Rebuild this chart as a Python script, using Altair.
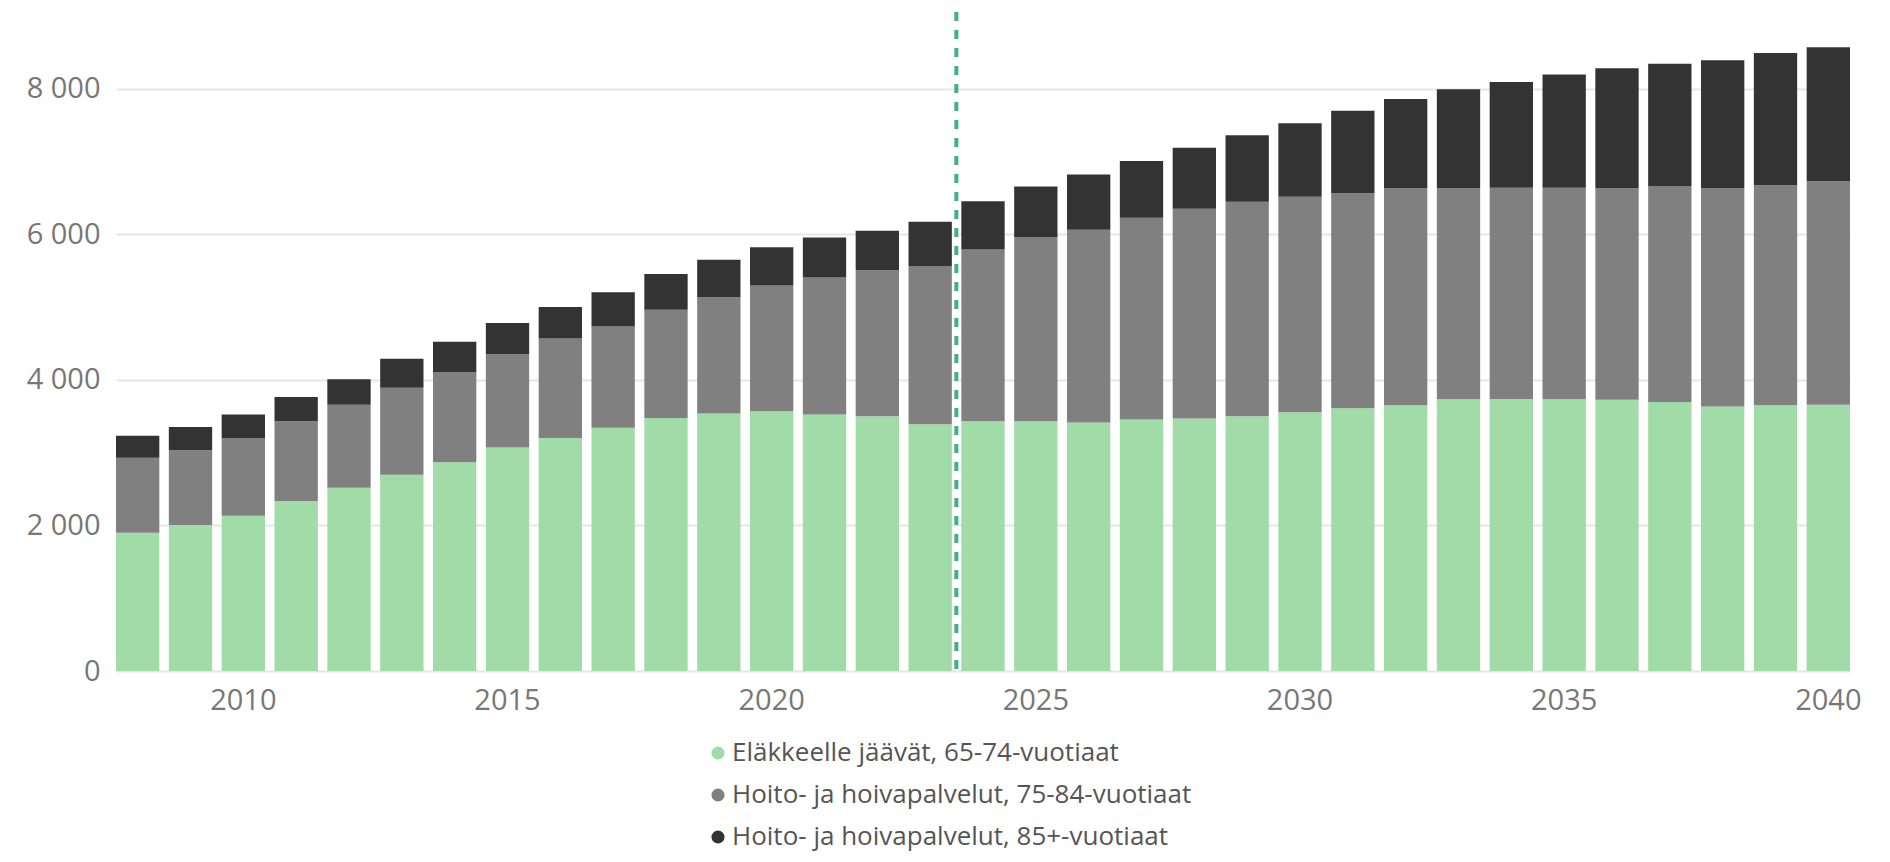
import altair as alt
import pandas as pd

years = list(range(2008, 2041))
total_green = [1900, 2005, 2133, 2336, 2519, 2697, 2869, 3071, 3200, 3341, 3476, 3537, 3568, 3525, 3500, 3390,
               3433, 3433, 3414, 3457, 3470, 3500, 3555, 3611, 3653, 3733, 3739, 3733, 3727, 3696, 3635, 3653, 3660]
top_gray = [2930, 3034, 3200, 3433, 3660, 3893, 4107, 4352, 4567, 4732, 4965, 5137, 5296, 5407, 5505, 5566,
            5793, 5964, 6063, 6228, 6351, 6449, 6516, 6565, 6633, 6633, 6639, 6639, 6633, 6663, 6633, 6676, 6731]
top_black = [3231, 3353, 3525, 3764, 4009, 4291, 4524, 4781, 5002, 5204, 5456, 5652, 5824, 5958, 6050, 6173,
             6455, 6657, 6823, 7007, 7190, 7362, 7528, 7699, 7859, 7994, 8092, 8196, 8282, 8343, 8392, 8490, 8570]

series = ["Eläkkeelle jäävät, 65-74-vuotiaat",
          "Hoito- ja hoivapalvelut, 75-84-vuotiaat",
          "Hoito- ja hoivapalvelut, 85+-vuotiaat"]
colors = ["#a0dba8", "#808080", "#333333"]

rows = []
for i, y in enumerate(years):
    vals = [total_green[i], top_gray[i] - total_green[i], top_black[i] - top_gray[i]]
    for k, v in enumerate(vals):
        rows.append({"year": y, "series": series[k], "value": v, "ord": k})
df = pd.DataFrame(rows)

W, H = 1734, 655
font = "Open Sans"

bars = alt.Chart(df).mark_bar().encode(
    x=alt.X("year:O", title=None,
            scale=alt.Scale(paddingInner=0.18, paddingOuter=0),
            axis=alt.Axis(values=[2010, 2015, 2020, 2025, 2030, 2035, 2040], labelAngle=0,
                          domain=False, ticks=False, labelPadding=15, grid=False,
                          labelFontSize=29, labelColor="#777777", labelFont=font)),
    y=alt.Y("value:Q", title=None, stack="zero",
            scale=alt.Scale(domain=[0, 9000], nice=False),
            axis=alt.Axis(values=[0, 2000, 4000, 6000, 8000], domain=False, ticks=False,
                          labelPadding=16, labelFontSize=29, labelColor="#777777", labelFont=font,
                          gridColor="#e6e6e6", gridWidth=2,
                          labelExpr="replace(format(datum.value, ','), ',', ' ')")),
    color=alt.Color("series:N", scale=alt.Scale(domain=series, range=colors),
                    legend=alt.Legend(title=None, orient="none", legendX=589, legendY=724,
                                      direction="vertical", symbolType="circle", symbolSize=170,
                                      labelFontSize=26, labelColor="#555555", labelFont=font,
                                      labelLimit=0, rowPadding=16, labelOffset=1,
                                      symbolStrokeWidth=0)),
    order=alt.Order("ord:Q", sort="ascending"),
)

rule_df = pd.DataFrame({"year": [2024]})
rule = alt.Chart(rule_df).mark_rule(color="#40b08a", strokeWidth=4, strokeDash=[9, 9], xOffset=-5).encode(
    x=alt.X("year:O", bandPosition=0),
    y=alt.value(-4),
    y2=alt.value(H),
)

chart = alt.layer(bars, rule).properties(
    width=W, height=H,
    autosize=alt.AutoSizeParams(type="none"),
    padding={"left": 108, "top": 8, "right": 20, "bottom": 183},
).configure_view(stroke=None)

chart.save("out.html", embed_options={"renderer": "svg", "actions": False})
